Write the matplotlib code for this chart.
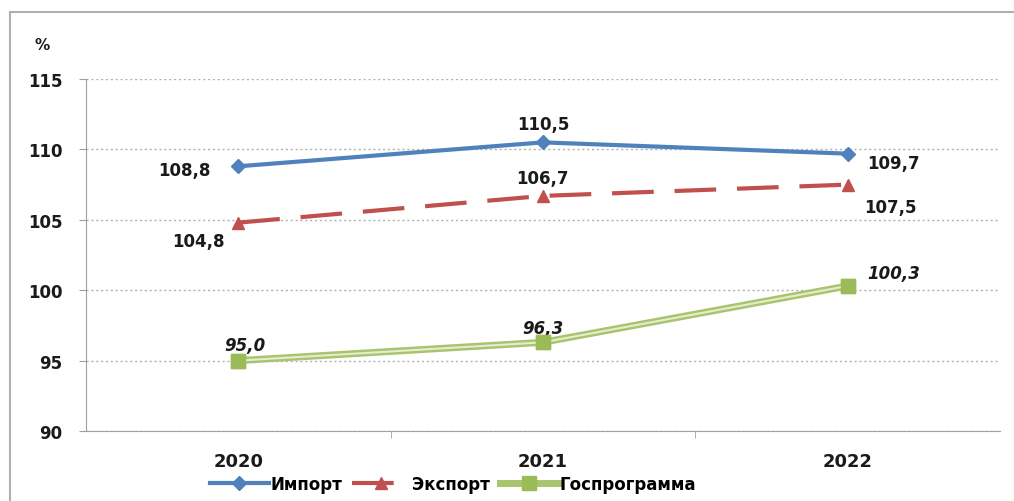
import matplotlib.pyplot as plt
from matplotlib.patches import Rectangle

years = ["2020", "2021", "2022"]
imp = [108.8, 110.5, 109.7]
exp = [104.8, 106.7, 107.5]
gos = [95.0, 96.3, 100.3]

x = range(len(years))

fig = plt.figure(figsize=(10.14, 5.02), dpi=100)
ax = fig.add_axes([0.0848, 0.1394, 0.9012, 0.7012])

# outer frame like the source picture
fig.patches.append(Rectangle((0.010, -0.01), 1.0, 0.985, transform=fig.transFigure,
                             fill=False, edgecolor="#b0b0b0", lw=1.5))

ax.plot(x, imp, color="#4F81BD", lw=3, marker="D", ms=7, label="Импорт", zorder=4)
ax.plot(x, exp, color="#C0504D", lw=3, ls=(0, (10, 5)), marker="^", ms=9, label="Экспорт", zorder=4)
# double line for the programme series
ax.plot(x, gos, color="#A9C46C", lw=5, marker="s", ms=10, mfc="#9BBB59", mec="#9BBB59",
        label="Госпрограмма", zorder=3)
ax.plot(x, gos, color="#E4EDCF", lw=1.5, zorder=3.1)
ax.plot(x, gos, ls="none", marker="s", ms=10, mfc="#9BBB59", mec="#9BBB59", zorder=3.2)

lab = dict(fontsize=12, fontweight="bold", color="#1a1a1a")
ax.annotate("108,8", (0, imp[0]), xytext=(-20, -3), textcoords="offset points", ha="right", va="center", **lab)
ax.annotate("110,5", (1, imp[1]), xytext=(0, 13), textcoords="offset points", ha="center", va="center", **lab)
ax.annotate("109,7", (2, imp[2]), xytext=(14, -7), textcoords="offset points", ha="left", va="center", **lab)
ax.annotate("104,8", (0, exp[0]), xytext=(-10, -13), textcoords="offset points", ha="right", va="center", **lab)
ax.annotate("106,7", (1, exp[1]), xytext=(0, 13), textcoords="offset points", ha="center", va="center", **lab)
ax.annotate("107,5", (2, exp[2]), xytext=(12, -16), textcoords="offset points", ha="left", va="center", **lab)
ax.annotate("95,0", (0, gos[0]), xytext=(5, 11), textcoords="offset points", ha="center", va="center", style="italic", **lab)
ax.annotate("96,3", (1, gos[1]), xytext=(0, 10), textcoords="offset points", ha="center", va="center", style="italic", **lab)
ax.annotate("100,3", (2, gos[2]), xytext=(14, 9), textcoords="offset points", ha="left", va="center", style="italic", **lab)

ax.set_xlim(-0.5, 2.5)
ax.set_ylim(90, 115)
ax.set_yticks([90, 95, 100, 105, 110, 115])
ax.set_xticks(list(x))
ax.set_xticklabels(years)
ax.set_xticks([0.5, 1.5], minor=True)
ax.tick_params(axis="x", which="major", length=0, pad=15, labelsize=13)
ax.tick_params(axis="x", which="minor", length=5, color="#a0a0a0")
ax.tick_params(axis="y", length=5, color="#a0a0a0", labelsize=12, pad=12)
for t in ax.get_xticklabels() + ax.get_yticklabels():
    t.set_fontweight("bold")
    t.set_color("#1a1a1a")

ax.grid(axis="y", color="#b0b0b0", ls=(0, (1.5, 2)), lw=1)
for s in ["top", "right"]:
    ax.spines[s].set_visible(False)
for s in ["left", "bottom"]:
    ax.spines[s].set_color("#a0a0a0")

ax.text(-0.048, 1.099, "%", transform=ax.transAxes, fontsize=11, fontweight="bold",
        ha="center", va="center", color="#1a1a1a")

ax.legend(loc="upper center", bbox_to_anchor=(0.402, -0.082), ncol=3, frameon=False,
          prop=dict(size=12, weight="bold"), handlelength=3.5, columnspacing=0.6,
          handletextpad=0.1)

fig.savefig("out.png", dpi=100)
